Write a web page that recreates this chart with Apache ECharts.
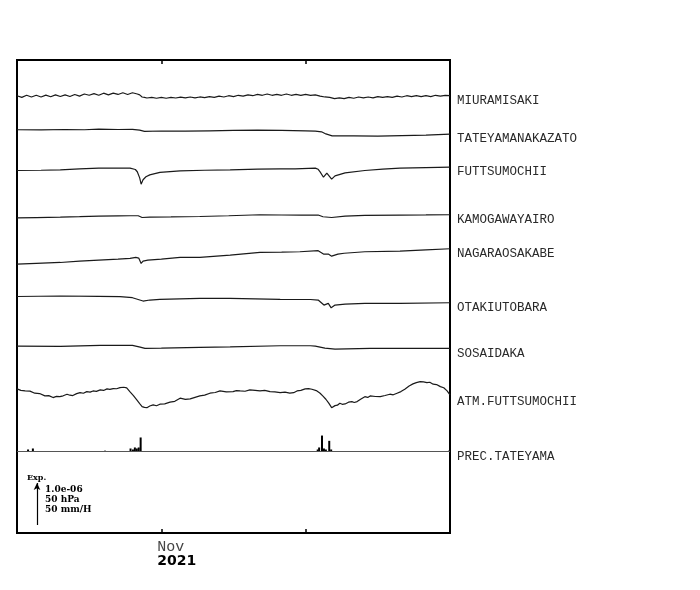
<!DOCTYPE html>
<html>
<head>
<meta charset="utf-8">
<script src="https://cdn.jsdelivr.net/npm/echarts@6/dist/echarts.min.js"></script>
<style>html,body{margin:0;padding:0;background:#fff}#c{width:700px;height:590px}</style>
</head>
<body>
<div id="c"></div>
<script>
// ---- DATA (x = days from 2 Oct 2021, Nov 1 = day 30, Dec 1 = day 60) ----
// strain in units of 1e-8, pressure in hPa, precipitation in mm/h
const stationNames = ["MIURAMISAKI","TATEYAMANAKAZATO","FUTTSUMOCHII","KAMOGAWAYAIRO","NAGARAOSAKABE","OTAKIUTOBARA","SOSAIDAKA","ATM.FUTTSUMOCHII","PREC.TATEYAMA"];
const tickLabels = {30: "Nov"};
const yearLabel = "2021";
const scaleTexts = ["1.0e-06", "50 hPa", "50 mm/H"];

const miuramisaki = [[0,1],[1,-3],[2,2],[3,-2],[4,2],[5,-2],[6,2.5],[7,-1.5],[8,3],[9,-1],[10,3],[11,-1],[12,4],[13,0],[14,5],[15,2],[16,6],[17,2],[18,7],[19,3],[20,7],[21,4],[22,8],[23,4],[24,8],[25,5],[25.5,3],[26,-2],[26.5,-3],[27,-4.5],[28,-3],[29,-5],[30,-3],[31,-5],[32,-3],[33,-4.5],[34,-2.5],[35,-4],[36,-2],[37,-4],[38,-2],[39,-3.5],[40,-1],[41,-3],[42,0],[43,-2],[44,1],[45,-1],[46,2],[47,0],[48,3],[49,1],[50,4],[51,2],[52,5],[53,2],[54,4],[55,2],[56,5],[57,2],[58,4],[59,2],[60,4],[61,2],[62,3],[63,0],[64,-2],[65,-3],[66,-6],[67,-4],[68,-6],[69,-3],[70,-5],[71,-2],[72,-4],[73,-2],[74,-4],[75,-1],[76,-3],[77,-1],[78,-3],[79,0],[80,-2],[81,1],[82,-1],[83,1],[84,-1],[85,1],[86,-1],[87,2],[88,0],[89,2],[90,1]];
const tateyamanakazato = [[0,0],[5,-0.5],[10,0.5],[14,0],[17,1.5],[21,0.5],[24,1],[25.5,-1],[26.5,-4],[30,-3],[35,-3.5],[40,-2.5],[45,-1.5],[50,-1],[55,-1.5],[60,-2.5],[62,-3.5],[63.3,-5],[64.2,-10],[65.5,-14.5],[70,-14.5],[75,-15],[80,-14],[85,-13],[90,-10.5]];
const futtsumochii = [[0,-4],[5,-3.5],[9,-2.4],[13,0],[17,1.7],[21,1.5],[23.5,1.7],[24.6,-1.7],[25,-7],[25.5,-21.6],[25.8,-36.7],[26.2,-26],[26.8,-19],[27.6,-14.4],[29.7,-8.4],[33.9,-4.8],[39,-3.5],[44.3,-2.4],[50,-1],[54.7,0],[57.8,0],[62,1.7],[62.6,-1.2],[63,-7.2],[63.7,-20],[64,-17],[64.4,-10.3],[64.7,-12],[65.4,-24.7],[66.1,-16.8],[68.2,-9.6],[72.3,-4],[76,-1],[79.6,1.7],[85,3],[90,4]];
const kamogawayairo = [[0,-4],[4,-3],[9,-2],[13,-1],[17,0.5],[21,1],[23.5,1.2],[25.2,1.2],[26,-2.9],[27.6,-2],[32,-1.5],[38,-0.5],[44,1.2],[50.5,3.6],[55,3],[59,2.9],[62.6,2.9],[63.6,-1.2],[65.4,-2.9],[68.2,0.5],[72.3,2],[79.6,2.9],[85,3.2],[90,3.6]];
const nagaraosakabe = [[0,0],[4,2],[9,4],[13,7],[17,9.6],[21,12],[23.5,13.7],[24.7,16],[25.3,14.4],[25.8,1.7],[26.2,7.2],[27.2,9.6],[30,12],[33.9,16],[38,16],[44.3,21.6],[50.5,28],[55,28.5],[58.8,29.5],[62.6,32],[63.7,24],[64.7,24],[65.4,19],[66.7,24],[68,26],[72.3,29.5],[79.6,31],[85,34],[90,36.7]];
const otakiutobara = [[0,0],[9,1.2],[17,0.5],[21.4,-0.5],[24,-2.9],[26.2,-10.8],[27.6,-8.4],[29.7,-6.7],[38,-4.3],[44.3,-4.3],[54.7,-6.7],[61,-7.2],[62.6,-8.4],[63,-10.8],[63.8,-20.4],[64.7,-16.3],[65.3,-26.9],[66.1,-20.4],[68.2,-18],[72.3,-16.3],[79.6,-16.3],[90,-14.9]];
const sosaidaka = [[0,0],[9,-0.5],[17.3,1.7],[24,1.7],[25.6,-2.4],[26.6,-5.5],[30,-5],[38,-3],[44.3,-2],[54.7,0.7],[61,0.7],[62,0],[64,-4.8],[66.1,-7.2],[73.4,-5.5],[90,-5.5]];
const atmFuttsumochii = [[0,0],[0.8,-1.8],[1.7,-2.4],[2.7,-2.6],[3.7,-5.1],[4.7,-5.5],[5.8,-8.3],[6.6,-8.0],[7.5,-10.3],[8.2,-8.9],[8.9,-9.1],[9.6,-8.2],[10.4,-6.3],[11,-7.5],[11.6,-7.9],[12.4,-5.6],[13.1,-4.4],[13.8,-5.2],[14.5,-3.2],[15.2,-3.8],[15.8,-2.4],[16.5,-2.9],[17.3,-1.2],[18,-1.8],[18.7,0],[19.3,-0.6],[20,0.4],[20.7,0.2],[21.4,1.6],[21.8,1.0],[22.2,2],[22.8,1.2],[23.5,-3.6],[24.2,-8],[24.9,-13.1],[25.5,-17.5],[26,-21],[26.5,-22],[27,-22.3],[27.6,-20.3],[28.3,-19],[29,-20],[29.7,-18.2],[30.7,-17.8],[31.8,-15.8],[32.8,-14.8],[33.9,-11],[35,-12.5],[36,-11.9],[37,-10],[38,-8.3],[39,-7.4],[40.1,-5.1],[41.2,-4.3],[42.2,-2.4],[43.5,-3.6],[44.9,-3.2],[45.6,-2],[46.4,-2.4],[47.4,-2.8],[48.4,-1.2],[49.5,-1.8],[50.5,-2.4],[51.5,-1.7],[52.6,-3.2],[53.6,-3.6],[54.7,-4.4],[55.7,-3.8],[56.7,-5.1],[57.5,-4.5],[58.2,-2.4],[59,-1.8],[59.9,0],[60.6,0.4],[61.3,-0.4],[62.2,-2],[63,-5.1],[63.6,-8.5],[64.2,-12.3],[64.8,-17],[65.4,-22.3],[66.1,-19.9],[66.6,-19.4],[67.1,-17],[67.6,-18.3],[68.2,-17.9],[68.9,-15.8],[69.6,-15.1],[70.1,-16.2],[70.7,-15.1],[71.5,-12],[72.3,-9.2],[72.9,-10.1],[73.4,-8.3],[74.5,-9],[75.5,-9.2],[76.5,-7.8],[77.5,-6.3],[78.2,-7],[79,-5.1],[79.8,-3.2],[80.6,-0.4],[81.5,3.5],[82.3,6],[83,7.5],[83.8,8.7],[84.5,8.3],[85.2,7.5],[85.8,7.9],[86.5,5.6],[87.2,5.2],[88,2.7],[88.7,1.4],[89.4,-2.4],[90,-7.1]];
const precTateyama = [[2.3,2.4],[3.3,3.6],[18.3,1],[19,0.6],[23.6,3.6],[24.1,2.4],[24.5,4.8],[24.9,3.6],[25.3,4.8],[25.7,16.7],[48.8,0.6],[52.2,0.6],[62.5,2.4],[62.8,4.8],[63.4,19],[63.8,3.6],[64.2,2.4],[64.9,12.7],[65.3,2.4],[89.8,1]];

// ---- LAYOUT ----
// display scale: 100 display units = 1.0e-06 strain = 50 hPa = 50 mm/H
const unitFactor = [1,1,1,1,1,1,1,2,2];
const offsets = [1040, 960, 867, 754, 640, 563, 445, 343, 194];
const Y_MAX = 1126;
const scaleBar = {x: 4.16, y0: 19};

const chart = echarts.init(document.getElementById('c'), null, {renderer: 'canvas'});
const traces = [miuramisaki, tateyamanakazato, futtsumochii, kamogawayairo, nagaraosakabe, otakiutobara, sosaidaka, atmFuttsumochii];
const lineColor = '#1a1a1a';
const labelStyle = {fontFamily: 'Liberation Mono', fontSize: 12.5, color: '#2a2a2a'};

const series = traces.map((arr, i) => ({
  type: 'line', name: stationNames[i], showSymbol: false, symbol: 'none',
  data: arr.map(p => [p[0], offsets[i] + p[1] * unitFactor[i]]),
  lineStyle: {color: lineColor, width: 1.2},
  endLabel: Object.assign({show: true, formatter: '{a}', distance: 7, offset: [0, i === 7 ? 7 : 5]}, labelStyle),
  silent: true
}));
// precipitation baseline + scale arrow
series.push({
  type: 'line', name: stationNames[8], showSymbol: false, symbol: 'none',
  data: [[0, offsets[8]], [90, offsets[8]]],
  lineStyle: {color: '#555', width: 1},
  endLabel: Object.assign({show: true, formatter: '{a}', distance: 7, offset: [0, 5]}, labelStyle),
  markLine: {
    silent: true, symbol: ['none', 'arrow'], symbolSize: [5, 7], label: {show: false},
    lineStyle: {color: '#000', width: 1.2, type: 'solid'},
    data: [[{coord: [scaleBar.x, scaleBar.y0]}, {coord: [scaleBar.x, scaleBar.y0 + 100]}]]
  }
});
// precipitation spikes
series.push({
  type: 'custom', name: 'prec',
  data: precTateyama,
  renderItem: function (params, api) {
    const d = api.value(0), v = api.value(1);
    const a = api.coord([d, offsets[8]]);
    const b = api.coord([d, offsets[8] + v * unitFactor[8]]);
    return {type: 'line', shape: {x1: a[0], y1: a[1], x2: b[0], y2: b[1]}, style: {stroke: '#000', lineWidth: 2}};
  }
});

const xCommon = {
  type: 'value', min: 0, max: 90, interval: 30,
  axisLine: {show: false}, splitLine: {show: false},
  axisTick: {show: true, inside: true, length: 4, lineStyle: {color: '#000', width: 1.5}}
};

chart.setOption({
  animation: false,
  backgroundColor: '#fff',
  grid: {left: 17, top: 60, width: 433, height: 473, show: true, borderColor: '#000', borderWidth: 2, backgroundColor: 'transparent'},
  xAxis: [
    Object.assign({}, xCommon, {
      position: 'bottom',
      axisLabel: {
        show: true, margin: 6, align: 'left', padding: [0, 0, 0, -4],
        formatter: v => tickLabels[v] ? '{m|' + tickLabels[v] + '}\n{y|' + yearLabel + '}' : '',
        rich: {
          m: {fontFamily: 'Liberation Mono', fontSize: 15, color: '#444', lineHeight: 16},
          y: {fontFamily: 'DejaVu Sans', fontWeight: 'bold', fontSize: 14, color: '#000', lineHeight: 12}
        }
      }
    }),
    Object.assign({}, xCommon, {position: 'top', axisLabel: {show: false}})
  ],
  yAxis: {type: 'value', min: 0, max: Y_MAX, show: false},
  series: series,
  graphic: [
    {type: 'text', left: 27, top: 474, style: {text: 'Exp.', font: 'bold 8px "DejaVu Serif"', fill: '#000'}},
    {type: 'text', left: 45, top: 485, style: {text: scaleTexts.join('\n'), font: 'bold 9px "DejaVu Serif"', lineHeight: 10, fill: '#000'}}
  ]
});
</script>
</body>
</html>
